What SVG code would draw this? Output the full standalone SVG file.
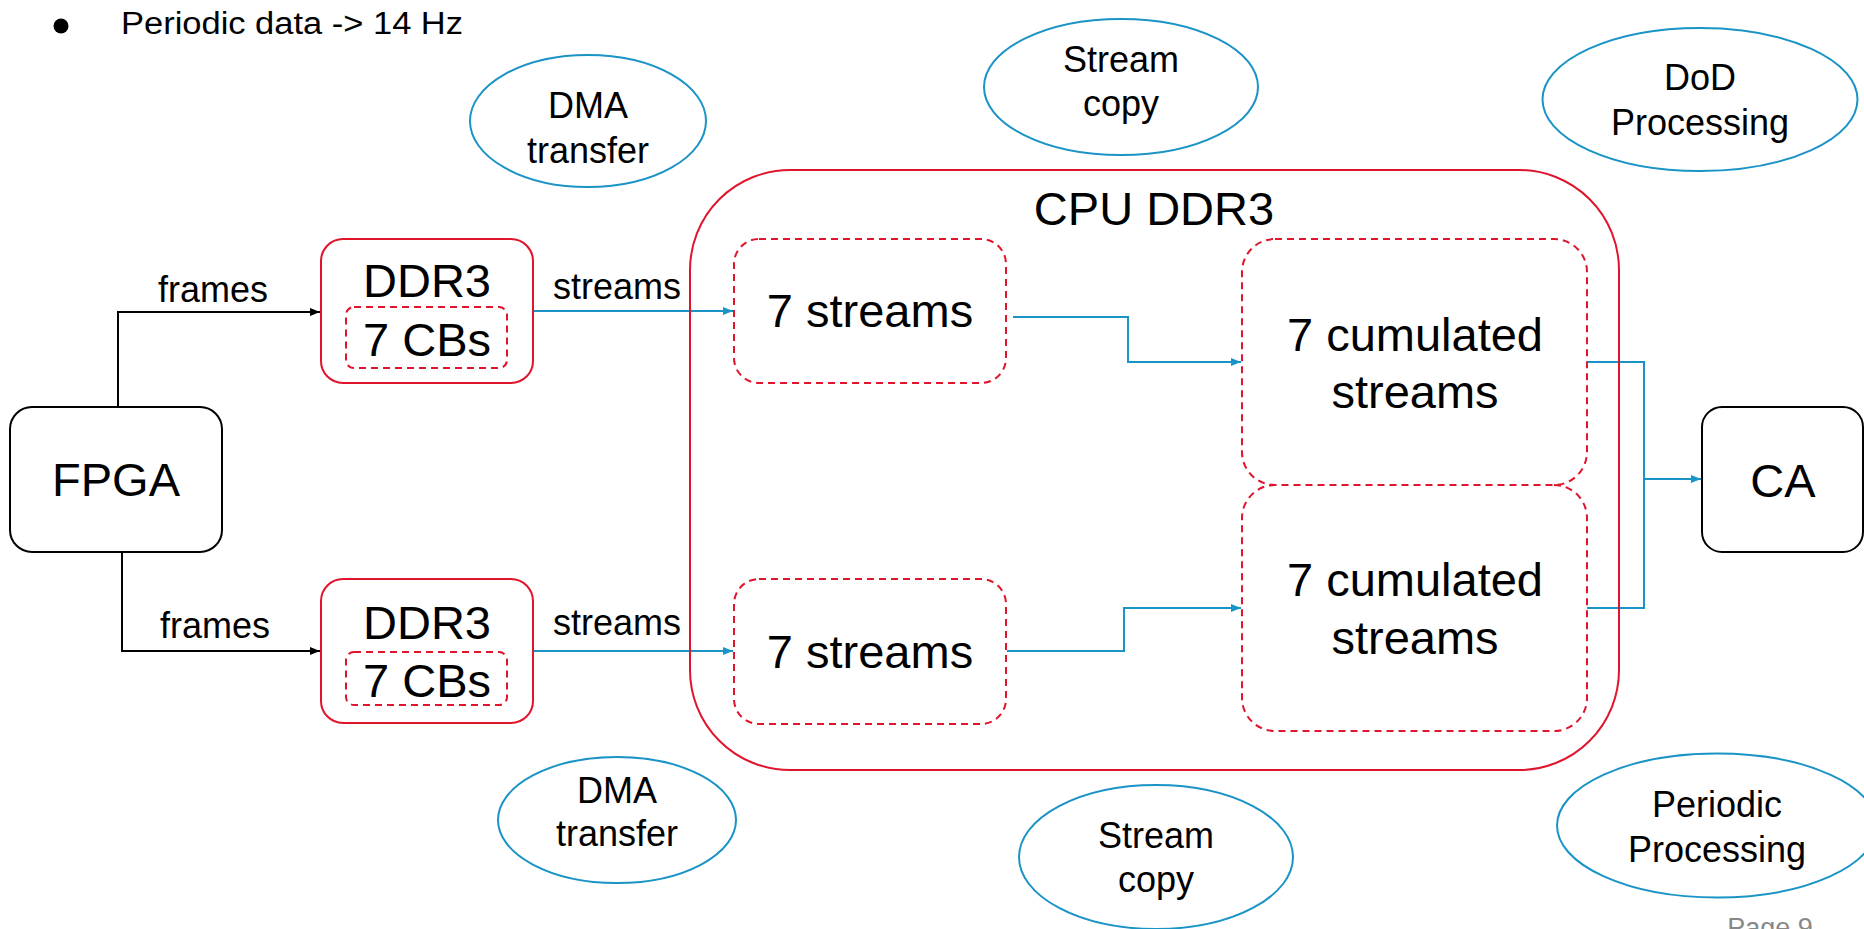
<svg xmlns="http://www.w3.org/2000/svg" width="1864" height="929" viewBox="0 0 1864 929">
<defs>
<style>
text{font-family:"Liberation Sans",Arial,sans-serif;fill:#000;text-anchor:middle}
.big{font-size:47px}
.lbl{font-size:36px}
.blk{fill:none;stroke:#000;stroke-width:2}
.red{fill:none;stroke:#e0142c;stroke-width:2}
.dash{fill:none;stroke:#e0142c;stroke-width:2;stroke-dasharray:7 5}
.ell{fill:none;stroke:#1a93c6;stroke-width:2}
.cb{fill:none;stroke:#000;stroke-width:2}
.cblue{fill:none;stroke:#1a93c6;stroke-width:2}
</style>
<marker id="ab" viewBox="0 0 10 10" refX="10" refY="5" markerWidth="10" markerHeight="10" markerUnits="userSpaceOnUse" orient="auto"><path d="M0,1 L10,5 L0,9 z" fill="#000"/></marker>
<marker id="au" viewBox="0 0 10 10" refX="10" refY="5" markerWidth="10" markerHeight="10" markerUnits="userSpaceOnUse" orient="auto"><path d="M0,1 L10,5 L0,9 z" fill="#1a93c6"/></marker>
</defs>
<rect width="1864" height="929" fill="#fff"/>

<g id="bullet">
<circle cx="61" cy="26" r="7.5" fill="#000"/>
<text x="121" y="34" font-size="31" style="text-anchor:start" textLength="342" lengthAdjust="spacingAndGlyphs">Periodic data -&gt; 14 Hz</text>
</g>

<g id="connectors">
<path class="cb" d="M118,407 V312 H320" marker-end="url(#ab)"/>
<path class="cb" d="M122,552 V651 H320" marker-end="url(#ab)"/>
<path class="cblue" d="M533,311 H733" marker-end="url(#au)"/>
<path class="cblue" d="M533,651 H733" marker-end="url(#au)"/>
<path class="cblue" d="M1013,317 H1128 V362 H1241" marker-end="url(#au)"/>
<path class="cblue" d="M1007,651 H1124 V608 H1241" marker-end="url(#au)"/>
<path class="cblue" d="M1587,362 H1644 V608 H1587"/>
<path class="cblue" d="M1644,479 H1701" marker-end="url(#au)"/>
<text class="lbl" x="213" y="302">frames</text>
<text class="lbl" x="215" y="638">frames</text>
<text class="lbl" x="617" y="299">streams</text>
<text class="lbl" x="617" y="635">streams</text>
</g>

<g id="fpga">
<rect class="blk" x="10" y="407" width="212" height="145" rx="22"/>
<text class="big" x="116" y="496">FPGA</text>
</g>

<g id="ddr3-top">
<rect class="red" x="321" y="239" width="212" height="144" rx="22"/>
<text class="big" x="427" y="297">DDR3</text>
<rect class="dash" x="346" y="307" width="161" height="61" rx="8"/>
<text class="big" x="427" y="356">7 CBs</text>
</g>

<g id="ddr3-bottom">
<rect class="red" x="321" y="579" width="212" height="144" rx="22"/>
<text class="big" x="427" y="639">DDR3</text>
<rect class="dash" x="346" y="652" width="161" height="53" rx="8"/>
<text class="big" x="427" y="697">7 CBs</text>
</g>

<g id="cpu-ddr3">
<rect class="red" x="690" y="170" width="929" height="600" rx="100"/>
<text class="big" x="1154" y="225">CPU DDR3</text>
</g>

<g id="streams-top">
<rect class="dash" x="734" y="239" width="272" height="144" rx="25"/>
<text class="big" x="870" y="327">7 streams</text>
</g>

<g id="streams-bottom">
<rect class="dash" x="734" y="579" width="272" height="145" rx="25"/>
<text class="big" x="870" y="668">7 streams</text>
</g>

<g id="cum-top">
<rect class="dash" x="1242" y="239" width="345" height="246" rx="33"/>
<text class="big" x="1415" y="351">7 cumulated</text>
<text class="big" x="1415" y="408">streams</text>
</g>

<g id="cum-bottom">
<path class="dash" d="M1554,485 A33,33 0 0 1 1587,518 V698 A33,33 0 0 1 1554,731 H1275 A33,33 0 0 1 1242,698 V518 A33,33 0 0 1 1275,485"/>
<text class="big" x="1415" y="596">7 cumulated</text>
<text class="big" x="1415" y="654">streams</text>
</g>

<g id="ca">
<rect class="blk" x="1702" y="407" width="161" height="145" rx="20"/>
<text class="big" x="1783" y="497">CA</text>
</g>

<g id="dma-top">
<ellipse class="ell" cx="588" cy="121" rx="118" ry="66"/>
<text class="lbl" x="588" y="118">DMA</text>
<text class="lbl" x="588" y="163">transfer</text>
</g>

<g id="copy-top">
<ellipse class="ell" cx="1121" cy="87" rx="137" ry="68"/>
<text class="lbl" x="1121" y="72">Stream</text>
<text class="lbl" x="1121" y="116">copy</text>
</g>

<g id="dod">
<ellipse class="ell" cx="1700" cy="99.5" rx="157.5" ry="71.5"/>
<text class="lbl" x="1700" y="90">DoD</text>
<text class="lbl" x="1700" y="135">Processing</text>
</g>

<g id="dma-bottom">
<ellipse class="ell" cx="617" cy="820" rx="119" ry="63"/>
<text class="lbl" x="617" y="803">DMA</text>
<text class="lbl" x="617" y="846">transfer</text>
</g>

<g id="copy-bottom">
<ellipse class="ell" cx="1156" cy="857" rx="137" ry="72"/>
<text class="lbl" x="1156" y="848">Stream</text>
<text class="lbl" x="1156" y="892">copy</text>
</g>

<g id="periodic">
<ellipse class="ell" cx="1717" cy="825.5" rx="160" ry="72"/>
<text class="lbl" x="1717" y="817">Periodic</text>
<text class="lbl" x="1717" y="862">Processing</text>
</g>

<g id="page">
<text x="1770" y="937" font-size="27" style="fill:#888">Page 9</text>
</g>
</svg>
